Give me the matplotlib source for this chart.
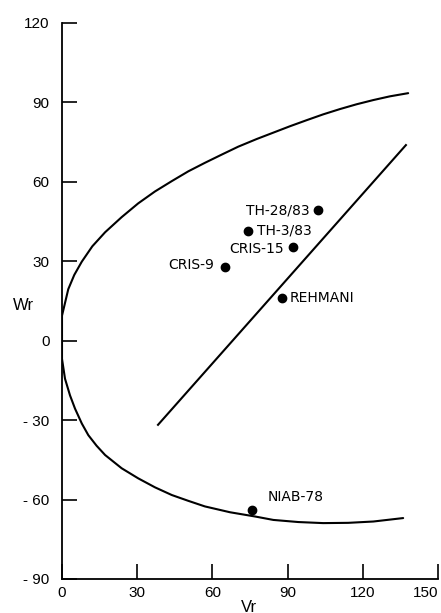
import matplotlib.pyplot as plt

# Vr-Wr graph data
varieties = ['TH-28/83', 'TH-3/83', 'CRIS-15', 'CRIS-9', 'REHMANI', 'NIAB-78']
vr = [102.1, 74.3, 92.3, 65.2, 87.6, 75.9]
wr = [49.2, 41.5, 35.2, 27.9, 16.2, -63.8]

# limiting curve, upper and lower branch (read point by point)
upper_vr = [0.0, 0.0, 2.5, 4.9, 7.9, 12.1, 17.2, 23.8, 30.4, 37.1, 43.8, 50.4, 57.0,
            63.7, 70.3, 77.7, 84.3, 90.9, 97.6, 104.2, 110.9, 117.5, 124.2, 130.8, 138.1]
upper_wr = [2.0, 9.4, 19.4, 24.8, 29.8, 35.6, 40.9, 46.6, 51.8, 56.3, 60.2, 63.9, 67.1,
            70.2, 73.2, 76.1, 78.5, 80.9, 83.2, 85.4, 87.4, 89.2, 90.8, 92.2, 93.4]
lower_vr = [0.0, 0.0, 1.2, 3.2, 5.2, 7.9, 10.5, 13.8, 17.2, 23.8, 30.4, 37.1, 43.8, 50.4,
            57.0, 67.0, 77.0, 84.3, 94.3, 104.2, 114.2, 124.2, 136.1]
lower_wr = [2.0, -6.9, -14.4, -20.7, -25.7, -31.3, -35.7, -39.7, -43.2, -48.2, -52.0, -55.4,
            -58.3, -60.5, -62.6, -64.8, -66.4, -67.7, -68.5, -68.9, -68.8, -68.3, -67.0]

# regression line end points
reg_vr = [38.3, 137.2]
reg_wr = [-31.8, 73.8]

x_ticks = [0, 30, 60, 90, 120, 150]
y_ticks = [-90, -60, -30, 0, 30, 60, 90, 120]
y_tick_labels = ['- 90', '- 60', '- 30', '0', '30', '60', '90', '120']

plt.rcParams['font.family'] = ['Liberation Sans', 'DejaVu Sans']

fig = plt.figure(figsize=(4.41, 6.13), dpi=100)
ax = fig.add_axes([62 / 441, 34 / 613, 376 / 441, 556.3 / 613])

ax.plot(upper_vr, upper_wr, color='black', lw=1.5, solid_capstyle='round', solid_joinstyle='round')
ax.plot(lower_vr, lower_wr, color='black', lw=1.5, solid_capstyle='round', solid_joinstyle='round')
ax.plot(reg_vr, reg_wr, color='black', lw=1.5)
ax.scatter(vr, wr, s=36, color='black', zorder=3)

# label offsets in points (dx, dy, ha)
offsets = {
    'TH-28/83': (-6, 0, 'right'),
    'TH-3/83': (6, 0, 'left'),
    'CRIS-15': (-7, -1, 'right'),
    'CRIS-9': (-8, 1, 'right'),
    'REHMANI': (6, 0, 'left'),
    'NIAB-78': (11, 9, 'left'),
}
for name, x, y in zip(varieties, vr, wr):
    dx, dy, ha = offsets[name]
    ax.annotate(name, (x, y), xytext=(dx, dy), textcoords='offset points',
                ha=ha, va='center', fontsize=10, family='DejaVu Sans Condensed')

ax.set_xlim(0, 150)
ax.set_ylim(-90, 120)
ax.set_xticks(x_ticks)
ax.set_yticks(y_ticks)
ax.set_yticklabels(y_tick_labels)
ax.spines['top'].set_visible(False)
ax.spines['right'].set_visible(False)
ax.spines['left'].set_linewidth(1.3)
ax.spines['bottom'].set_linewidth(1.3)
ax.tick_params(direction='in', length=11, width=1.2, labelsize=11)
ax.tick_params(axis='y', pad=9)
ax.tick_params(axis='x', pad=5)
# last x label sits left of its tick so it fits in the picture
ax.get_xticklabels()[-1].set_horizontalalignment('right')

fig.text(23 / 441, 1 - 305 / 613, 'Wr', ha='center', va='center', fontsize=12)
fig.text(249 / 441, 1 - 607 / 613, 'Vr', ha='center', va='center', fontsize=12)

fig.savefig('out.png', dpi=100)
